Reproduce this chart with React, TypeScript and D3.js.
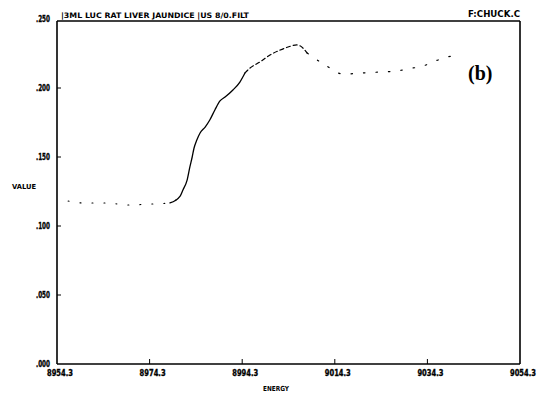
import React from "react";
import * as d3 from "d3";

// X-ray absorption scan: energy (eV) vs normalized value
const energy = [
  8956.7, 8959.9, 8962.9, 8964.0, 8965.1, 8969.4, 8974.4, 8978.7,
  8980.9, 8981.5, 8982.4, 8983.0, 8983.5, 8983.9, 8984.5, 8985.2,
  8986.3, 8987.3, 8988.4, 8989.5, 8990.6, 8992.3, 8993.8, 8994.9,
  8996.0, 8998.1, 9000.3, 9002.5, 9004.2, 9006.1, 9007.4, 9008.3,
  9012.2, 9016.1, 9020.4, 9024.1, 9027.7, 9029.9, 9033.3, 9036.6, 9040.3,
];
const value = [
  0.1181, 0.1167, 0.1167, 0.1167, 0.1167, 0.1152, 0.1159, 0.1167,
  0.1217, 0.1261, 0.1333, 0.1428, 0.1500, 0.1565, 0.1623, 0.1674,
  0.1717, 0.1768, 0.1841, 0.1906, 0.1935, 0.1986, 0.2043, 0.2109,
  0.2145, 0.2188, 0.2239, 0.2275, 0.2297, 0.2312, 0.2290, 0.2254,
  0.2167, 0.2101, 0.2109, 0.2116, 0.2123, 0.2138, 0.2159, 0.2203, 0.2239,
];

const xTicks = [8954.3, 8974.3, 8994.3, 9014.3, 9034.3, 9054.3];
const yTicks = [0, 0.05, 0.1, 0.15, 0.2, 0.25];
const yTickLabels = [".000", ".050", ".100", ".150", ".200", ".250"];

const title = "|3ML LUC RAT LIVER JAUNDICE |US 8/0.FILT";
const fileName = "F:CHUCK.C";
const panelTag = "(b)";

const W = 541;
const H = 395;
const FONT = "'DejaVu Sans Condensed', 'Liberation Sans Narrow', 'DejaVu Sans', sans-serif";

export default function App() {
  const x = d3.scaleLinear().domain([8954.3, 9054.3]).range([57, 520]);
  const y = d3.scaleLinear().domain([0, 0.25]).range([364, 19]);

  const pts: [number, number][] = energy.map((e, i) => [e, value[i]]);
  const line = d3
    .line<[number, number]>()
    .x((d) => x(d[0]))
    .y((d) => y(d[1]))
    .curve(d3.curveMonotoneX);

  const seg = (lo: number, hi: number) => pts.filter((d) => d[0] >= lo && d[0] <= hi);
  const preEdge = seg(8950, 8980.9);
  const edge = seg(8978.7, 8994.9);
  const crest = seg(8994.9, 9008.3);
  const postEdge = seg(9008.3, 9060);

  const top = y(0.25) + 2;

  return (
    <svg
      width={W}
      height={H}
      style={{ position: "absolute", left: 0, top: 0, background: "#fff" }}
      fontFamily={FONT}
    >
      <rect width={W} height={H} fill="#fff" />

      {/* frame */}
      <g stroke="#000" fill="none">
        <line x1={57} x2={57} y1={top} y2={364} strokeWidth={1.6} />
        <line x1={57} x2={520} y1={364} y2={364} strokeWidth={1.6} />
        <line x1={520} x2={520} y1={top} y2={364} strokeWidth={1.6} />
        <line x1={57} x2={520} y1={top} y2={top} strokeWidth={1.4} />
      </g>

      {/* x ticks */}
      {xTicks.map((t, i) => (
        <g key={`xt${i}`}>
          {i > 0 && i < xTicks.length - 1 && (
            <line x1={x(t)} x2={x(t)} y1={364} y2={359} stroke="#000" strokeWidth={1} />
          )}
          <text
            x={x(t) + 3}
            y={376}
            fontSize={8}
            fontWeight="bold"
            textAnchor="middle"
            textLength={26}
            lengthAdjust="spacingAndGlyphs"
            stroke="#000"
            strokeWidth={0.3}
          >
            {t.toFixed(1)}
          </text>
        </g>
      ))}

      {/* y ticks */}
      {yTicks.map((t, i) => (
        <g key={`yt${i}`}>
          {i > 0 && i < yTicks.length - 1 && (
            <line x1={57} x2={61} y1={y(t)} y2={y(t)} stroke="#000" strokeWidth={1} />
          )}
          <text
            x={50}
            y={y(t) + 3}
            fontSize={8}
            fontWeight="bold"
            textAnchor="end"
            textLength={14}
            lengthAdjust="spacingAndGlyphs"
            stroke="#000"
            strokeWidth={0.3}
          >
            {yTickLabels[i]}
          </text>
        </g>
      ))}

      {/* axis titles */}
      <text x={12} y={189} fontSize={7} fontWeight="bold" textLength={24} lengthAdjust="spacingAndGlyphs">
        VALUE
      </text>
      <text
        x={276}
        y={391}
        fontSize={7}
        fontWeight="bold"
        textAnchor="middle"
        textLength={26}
        lengthAdjust="spacingAndGlyphs"
      >
        ENERGY
      </text>

      {/* header */}
      <text x={61} y={18} fontSize={7.5} fontWeight="bold" textLength={188} lengthAdjust="spacingAndGlyphs">
        {title}
      </text>
      <text x={468} y={17} fontSize={8} fontWeight="bold" textLength={52} lengthAdjust="spacingAndGlyphs">
        {fileName}
      </text>

      {/* spectrum */}
      <g fill="none" stroke="#000" strokeLinecap="round">
        <path d={line(preEdge) ?? ""} strokeWidth={1.1} strokeDasharray="1 11" />
        <path d={line(edge) ?? ""} strokeWidth={1.3} />
        <path d={line(crest) ?? ""} strokeWidth={1.2} strokeDasharray="4 3" />
        <path d={line(postEdge) ?? ""} strokeWidth={1.2} strokeDasharray="1.5 11" />
      </g>

      <text
        x={468}
        y={80}
        fontSize={20}
        fontFamily="'Liberation Serif', 'DejaVu Serif', serif"
        fontWeight="bold"
      >
        {panelTag}
      </text>
    </svg>
  );
}
